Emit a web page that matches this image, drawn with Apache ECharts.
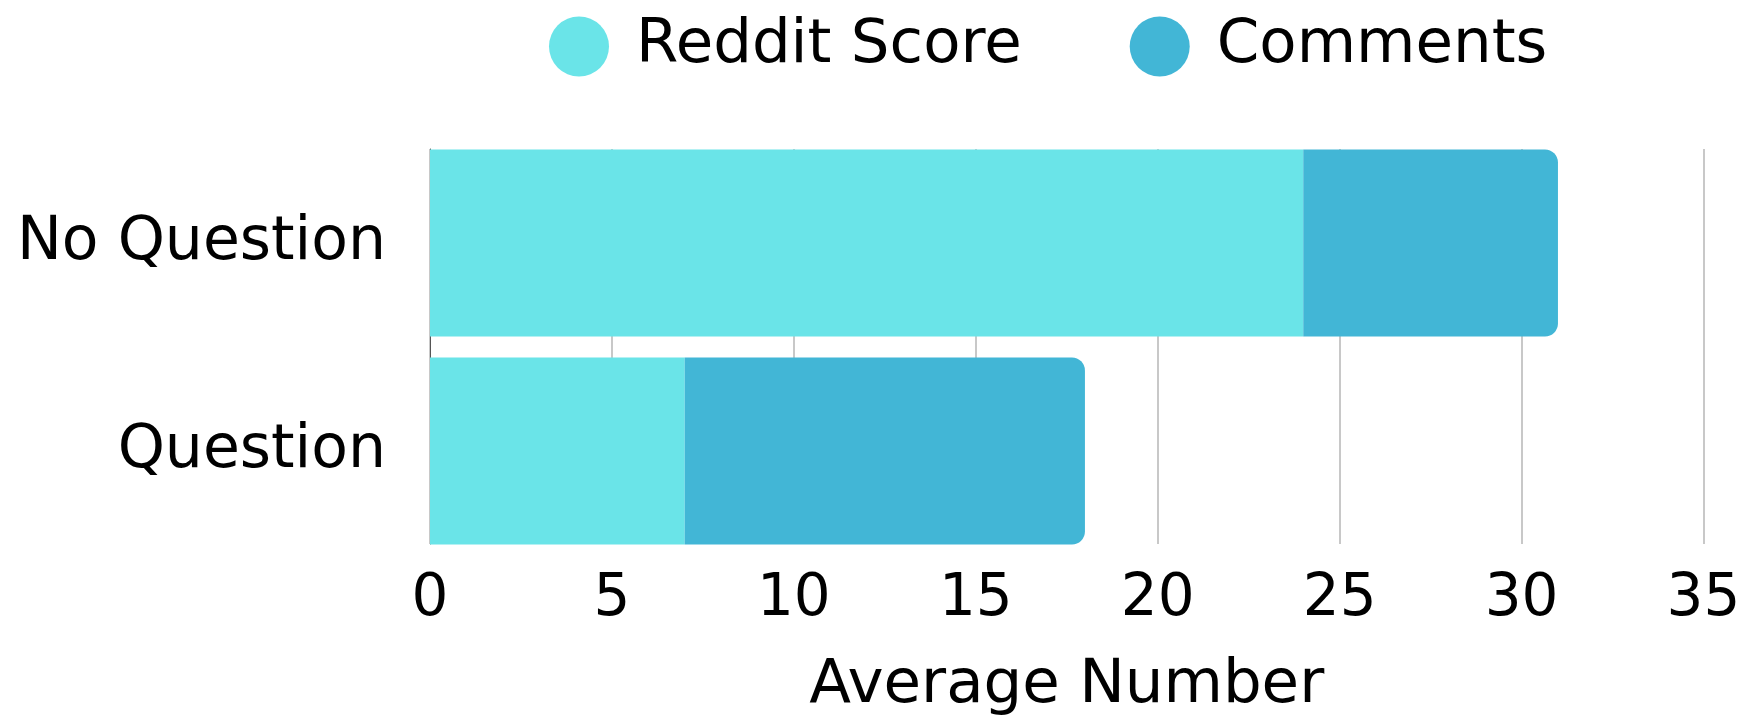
<!DOCTYPE html>
<html>
<head>
<meta charset="utf-8">
<script src="https://cdn.jsdelivr.net/npm/echarts@6/dist/echarts.min.js"></script>
<style>html,body{margin:0;padding:0;background:#fff}#c{width:1756px;height:718px}</style>
</head>
<body>
<div id="c"></div>
<script>
var categories = ['Question', 'No Question'];
var redditScore = [7, 24];
var comments = [11, 7];
var seriesNames = ['Reddit Score', 'Comments'];
var xTicks = [0, 5, 10, 15, 20, 25, 30, 35];

var FONT = 'DejaVu Sans';
var chart = echarts.init(document.getElementById('c'));
chart.setOption({
  animation: false,
  backgroundColor: '#fff',
  textStyle: {fontFamily: FONT},
  legend: {
    data: seriesNames,
    left: 544, top: 11,
    icon: 'circle',
    itemWidth: 60, itemHeight: 60,
    itemGap: 108,
    textStyle: {fontFamily: FONT, fontSize: 61, color: '#000', padding: [0, 0, 0, 22]}
  },
  grid: [
    {left: 430, right: 52.5, top: 139, bottom: 163, containLabel: false, outerBoundsMode: 'none'},
    {left: 430, right: 52.5, top: 149, bottom: 174, containLabel: false, outerBoundsMode: 'none'}
  ],
  xAxis: [
    {
      type: 'value', gridIndex: 0, min: xTicks[0], max: xTicks[xTicks.length - 1], interval: 5,
      name: 'Average Number', nameLocation: 'middle', nameGap: 101,
      nameTextStyle: {fontFamily: FONT, fontSize: 61, color: '#000'},
      axisLine: {show: false}, axisTick: {show: false},
      axisLabel: {fontFamily: FONT, fontSize: 58, color: '#000', margin: 16},
      splitLine: {show: false}
    },
    {
      type: 'value', gridIndex: 1, min: xTicks[0], max: xTicks[xTicks.length - 1], interval: 5,
      axisLine: {show: false}, axisTick: {show: false}, axisLabel: {show: false},
      splitLine: {show: true, lineStyle: {color: '#c8c8c8', width: 2}}
    }
  ],
  yAxis: [
    {
      type: 'category', gridIndex: 0, data: categories,
      axisLine: {show: false},
      axisTick: {show: false},
      axisLabel: {fontFamily: FONT, fontSize: 60, color: '#000', margin: 44}
    },
    {
      type: 'category', gridIndex: 1, data: categories,
      axisLine: {show: true, lineStyle: {color: '#555', width: 1}},
      axisTick: {show: false}, axisLabel: {show: false}, splitLine: {show: false}
    }
  ],
  series: [
    {name: seriesNames[0], type: 'bar', stack: 'a', data: redditScore, barCategoryGap: '10%',
     xAxisIndex: 0, yAxisIndex: 0, itemStyle: {color: '#6ae4e8'}},
    {name: seriesNames[1], type: 'bar', stack: 'a', data: comments, barCategoryGap: '10%',
     xAxisIndex: 0, yAxisIndex: 0, itemStyle: {color: '#42b6d6', borderRadius: [0, 13, 13, 0]}}
  ]
});
</script>
</body>
</html>
